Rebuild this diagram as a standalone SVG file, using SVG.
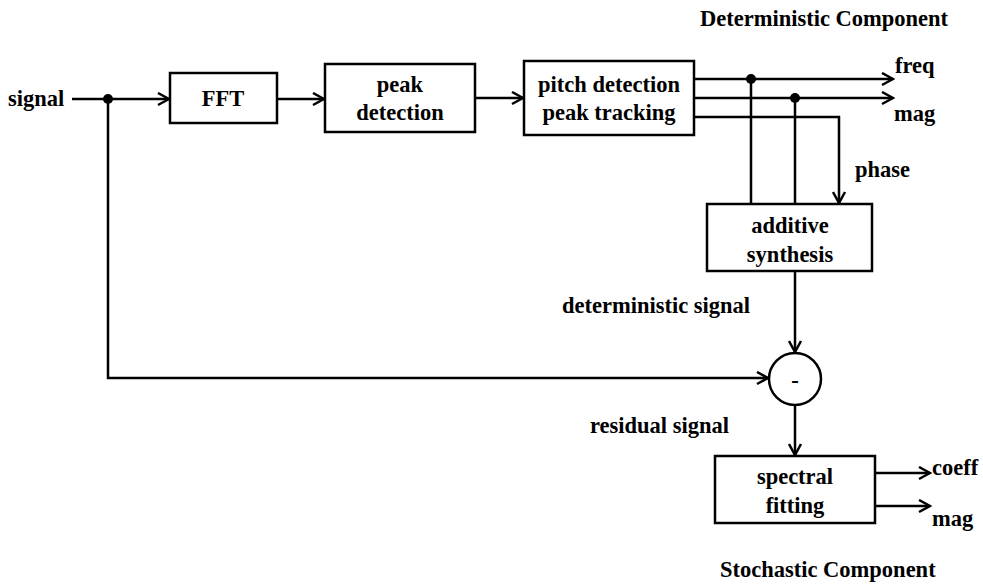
<svg xmlns="http://www.w3.org/2000/svg" width="983" height="585" viewBox="0 0 983 585">
  <style>
    .box { fill: #fff; stroke: #000; stroke-width: 2.5; }
    .wire { fill: none; stroke: #000; stroke-width: 2.5; }
    .t { font-family: "Liberation Serif", "DejaVu Serif", serif; font-weight: bold; font-size: 22.5px; fill: #000; }
    .c { text-anchor: middle; }
  </style>
  <defs>
    <marker id="arr" markerWidth="15" markerHeight="15" refX="13" refY="7.5" orient="auto" markerUnits="userSpaceOnUse">
      <path d="M2,1.5 L13,7.5 L2,13.5" fill="none" stroke="#000" stroke-width="2.5"/>
    </marker>
  </defs>

  <rect width="983" height="585" fill="#fff"/>

  <!-- connectors -->
  <g id="connectors">
    <path class="wire" d="M72,99 H169" marker-end="url(#arr)"/>
    <path class="wire" d="M108,99 V378 H768" marker-end="url(#arr)"/>
    <path class="wire" d="M277,99 H324" marker-end="url(#arr)"/>
    <path class="wire" d="M475,98 H523" marker-end="url(#arr)"/>
    <path class="wire" d="M694,79 H893" marker-end="url(#arr)"/>
    <path class="wire" d="M694,98 H893" marker-end="url(#arr)"/>
    <path class="wire" d="M694,117 H839 V203" marker-end="url(#arr)"/>
    <path class="wire" d="M751,79 V204"/>
    <path class="wire" d="M795,98 V204"/>
    <path class="wire" d="M795,271 V352" marker-end="url(#arr)"/>
    <path class="wire" d="M795,405 V455" marker-end="url(#arr)"/>
    <path class="wire" d="M875,473 H930" marker-end="url(#arr)"/>
    <path class="wire" d="M875,506 H930" marker-end="url(#arr)"/>
    <circle cx="108" cy="99" r="5"/>
    <circle cx="751" cy="79" r="5"/>
    <circle cx="795" cy="98" r="5"/>
  </g>

  <text class="t" x="8" y="106">signal</text>

  <g id="fft">
    <rect class="box" x="170" y="73" width="107" height="50"/>
    <text class="t c" x="223" y="106">FFT</text>
  </g>

  <g id="peak-detection">
    <rect class="box" x="325" y="64" width="150" height="68"/>
    <text class="t c" x="400" y="92">peak</text>
    <text class="t c" x="400" y="120">detection</text>
  </g>

  <g id="pitch-tracking">
    <rect class="box" x="524" y="61" width="170" height="74"/>
    <text class="t c" x="609" y="92">pitch detection</text>
    <text class="t c" x="609" y="120">peak tracking</text>
  </g>

  <g id="deterministic-labels">
    <text class="t" x="700" y="26">Deterministic Component</text>
    <text class="t" x="895" y="73">freq</text>
    <text class="t" x="894" y="121">mag</text>
    <text class="t" x="855" y="177">phase</text>
  </g>

  <g id="additive-synthesis">
    <rect class="box" x="707" y="204" width="165" height="67"/>
    <text class="t c" x="790" y="233">additive</text>
    <text class="t c" x="790" y="262">synthesis</text>
  </g>

  <text class="t" x="562" y="313">deterministic signal</text>

  <g id="subtract">
    <circle class="box" cx="795" cy="379" r="26"/>
    <text class="t c" x="795" y="388">-</text>
  </g>

  <text class="t" x="590" y="433">residual signal</text>

  <g id="spectral-fitting">
    <rect class="box" x="715" y="456" width="160" height="67"/>
    <text class="t c" x="795" y="484">spectral</text>
    <text class="t c" x="795" y="513">fitting</text>
  </g>

  <g id="stochastic-labels">
    <text class="t" x="932" y="475">coeff</text>
    <text class="t" x="932" y="526">mag</text>
    <text class="t" x="720" y="577">Stochastic Component</text>
  </g>
</svg>
